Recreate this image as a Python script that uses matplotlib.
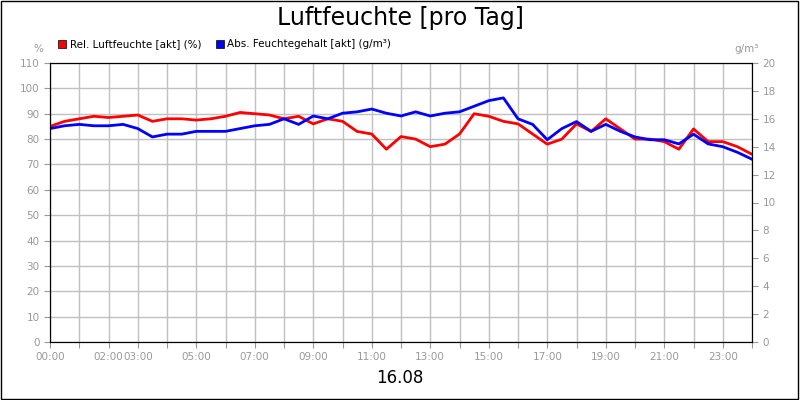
import matplotlib
matplotlib.use("Agg")
import matplotlib.pyplot as plt
import numpy as np
from matplotlib.patches import Rectangle

hours = [i * 0.5 for i in range(49)]
rel = [85, 87, 88, 89, 88.5, 89, 89.5, 87, 88, 88, 87.5, 88, 89, 90.5, 90, 89.5, 88, 89, 86, 88,
       87, 83, 82, 76, 81, 80, 77, 78, 82, 90, 89, 87, 86, 82, 78, 80, 86, 83, 88, 84,
       80, 80, 79, 76, 84, 79, 79, 77, 74]
absf = [15.3, 15.5, 15.6, 15.5, 15.5, 15.6, 15.3, 14.7, 14.9, 14.9, 15.1, 15.1, 15.1, 15.3, 15.5, 15.6,
        16.0, 15.6, 16.2, 16.0, 16.4, 16.5, 16.7, 16.4, 16.2, 16.5, 16.2, 16.4, 16.5, 16.9, 17.3, 17.5,
        16.0, 15.6, 14.5, 15.3, 15.8, 15.1, 15.6, 15.1, 14.7, 14.5, 14.5, 14.2, 14.9, 14.2, 14.0, 13.6, 13.1]
xtick_pos = [0, 2, 3, 5, 7, 9, 11, 13, 15, 17, 19, 21, 23]
xtick_lab = ["%02d:00" % h for h in xtick_pos]

fig = plt.figure(figsize=(8, 4), dpi=100)
fig.patches.append(Rectangle((0.001, 0.002), 0.997, 0.995, transform=fig.transFigure,
                             fill=False, edgecolor="black", linewidth=1))
ax = fig.add_axes([0.0625, 0.145, 0.8775, 0.6975])
ax2 = ax.twinx()
gray = "#999999"
ax.set_xlim(0, 24)
ax.set_ylim(0, 110)
ax2.set_ylim(0, 20)
ax.set_xticks(range(25), minor=False)
ax.set_xticklabels([xtick_lab[xtick_pos.index(h)] if h in xtick_pos else "" for h in range(25)])
ax.set_yticks(range(0, 111, 10))
ax2.set_yticks(range(0, 21, 2))
ax.grid(True, color="#c0c0c0", linewidth=1)
ax.set_axisbelow(True)
for a in (ax, ax2):
    a.tick_params(colors=gray, labelsize=7.5, length=4, labelcolor=gray)
    for s in a.spines.values():
        s.set_color("black")
ax.plot(hours, rel, color="#ff0000", lw=2)
ax2.plot(hours, absf, color="#0000ff", lw=2)
ax.text(-0.01, 1.04, "%", transform=ax.transAxes, ha="right", color=gray, fontsize=7.5)
ax2.text(1.01, 1.04, "g/m³", transform=ax.transAxes, ha="right", color=gray, fontsize=7.5)
fig.text(0.5, 0.955, "Luftfeuchte [pro Tag]", ha="center", va="center", fontsize=17)
fig.text(0.5, 0.055, "16.08", ha="center", va="center", fontsize=12)
fig.patches.append(Rectangle((0.073, 0.88), 0.01, 0.02, transform=fig.transFigure,
                             facecolor="#ff0000", edgecolor="black", lw=0.5))
fig.text(0.087, 0.89, "Rel. Luftfeuchte [akt] (%)", va="center", fontsize=7.5)
fig.patches.append(Rectangle((0.27, 0.88), 0.01, 0.02, transform=fig.transFigure,
                             facecolor="#0000ff", edgecolor="black", lw=0.5))
fig.text(0.284, 0.89, "Abs. Feuchtegehalt [akt] (g/m³)", va="center", fontsize=7.5)
fig.savefig("out.png", dpi=100)
